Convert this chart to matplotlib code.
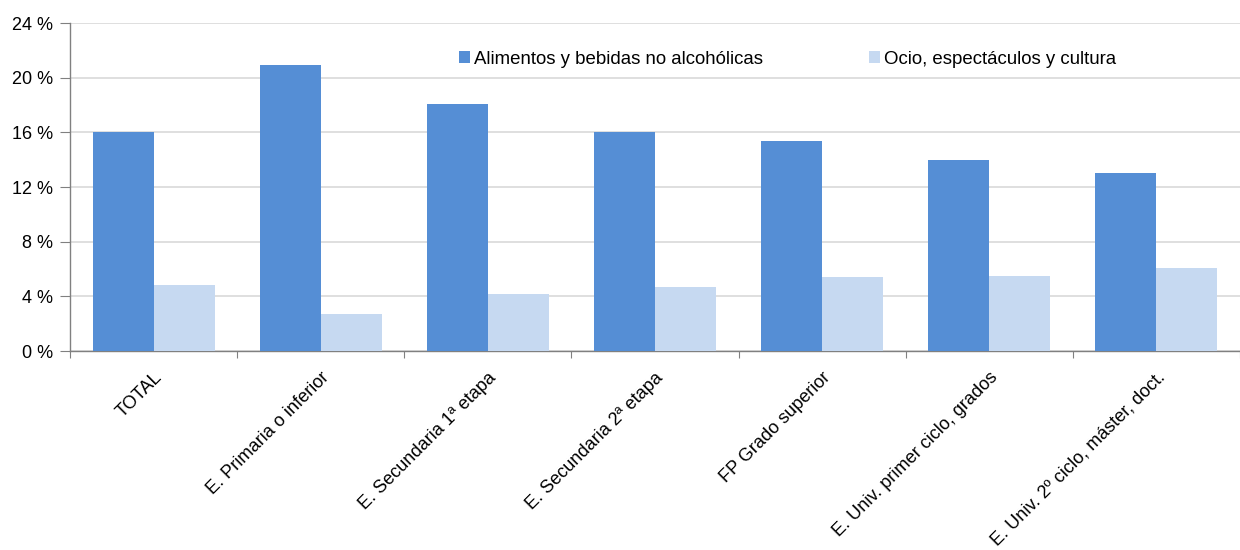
import matplotlib
matplotlib.use("Agg")
import matplotlib.pyplot as plt
import numpy as np

plt.rcParams['font.family'] = ['Liberation Sans', 'DejaVu Sans']

categories = ["TOTAL", "E. Primaria o inferior", "E. Secundaria 1ª etapa",
              "E. Secundaria 2ª etapa", "FP Grado superior",
              "E. Univ. primer ciclo, grados", "E. Univ. 2º ciclo, máster, doct."]
alimentos = [16.0, 20.9, 18.1, 16.0, 15.4, 14.0, 13.0]
ocio = [4.85, 2.7, 4.2, 4.7, 5.4, 5.5, 6.1]
series_names = ["Alimentos y bebidas no alcohólicas", "Ocio, espectáculos y cultura"]
yticks = [0, 4, 8, 12, 16, 20, 24]

fig = plt.figure(figsize=(12.4, 5.5), dpi=100)
ax = fig.add_axes([70/1240, 1 - 351/550, (1240-70)/1240, (351-23)/550])

x = np.arange(len(categories))
w = 0.365
ax.bar(x - w/2, alimentos, w, color="#558ED5", label=series_names[0], zorder=3)
ax.bar(x + w/2, ocio, w, color="#C6D9F1", label=series_names[1], zorder=3)

ax.set_xlim(-0.5, len(categories) - 0.5)
ax.set_ylim(0, 24)
ax.set_yticks(yticks)
ax.set_yticklabels([f"{v} %" for v in yticks], fontsize=13.0)
ax.yaxis.grid(True, color="#D9D9D9", linewidth=1.2, zorder=0)
ax.set_axisbelow(True)

ax.set_xticks(np.arange(len(categories) + 1) - 0.5, minor=False)
ax.set_xticklabels([])
ax.set_xticks(x, minor=True)
ax.set_xticklabels(categories, minor=True, rotation=45, ha='right',
                   rotation_mode='anchor', fontsize=13.1)
ax.tick_params(axis='x', which='minor', length=0, pad=13)
ax.tick_params(axis='x', which='major', length=5, color="#808080", direction='out')
ax.tick_params(axis='y', length=7, color="#808080", direction='out', pad=5)

for s in ['top', 'right']:
    ax.spines[s].set_visible(False)
for s in ['left', 'bottom']:
    ax.spines[s].set_color("#808080")
    ax.spines[s].set_linewidth(1.0)

leg = ax.legend(loc='upper left', bbox_to_anchor=(372/1170, 0.967), ncol=2,
                frameon=False, fontsize=13.4, handlelength=0.6, handleheight=0.6,
                handletextpad=0.2, columnspacing=5.7)

fig.savefig("out.png", dpi=100)
